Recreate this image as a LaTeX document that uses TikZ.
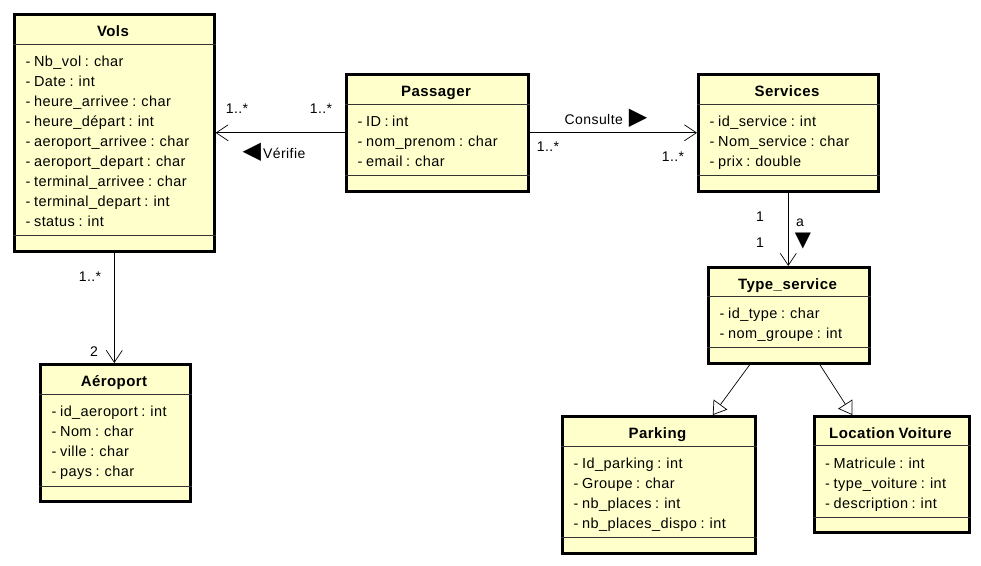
\documentclass[tikz,border=0pt]{standalone}
\usepackage{xcolor}
\usepackage{fontspec}
\usepackage{tikz}
\usetikzlibrary{arrows.meta}
\setmainfont{Liberation Sans}[LetterSpace=3, WordSpace=0.8]
\newfontfamily\symfont{DejaVu Sans}
\definecolor{classfill}{RGB}{255,255,204}

\begin{document}
\begin{tikzpicture}[x=1pt, y=-1pt,
    classbox/.style={draw, line width=2.6pt, fill=classfill, inner sep=0pt, anchor=north west},
    classname/.style={anchor=base, inner sep=0pt, font=\fontsize{15}{16}\selectfont\bfseries},
    attrs/.style={anchor=north west, align=left, inner sep=0pt, font=\fontsize{14.5}{20}\selectfont},
    sep/.style={line width=0.8pt, black!80},
    assoc/.style={-{Straight Barb[length=12pt, width=16pt]}, line width=0.7pt},
    gen/.style={-{Triangle[open, length=13pt, width=17pt, fill=white]}, line width=0.7pt},
    mult/.style={inner sep=0pt, font=\fontsize{14}{16}\selectfont}]
                  \useasboundingbox (0,0) rectangle (981,565);

                  % Vols
                  \node [classbox, minimum width=200, minimum height=237] (vols) at (13,13) {};
                  \node [classname] (vols-t) at (113,36) {Vols};
                  \draw [sep] (vols.west |- 0,44) -- (vols.east |- 0,44);
                  \node [attrs] (vols-a) at (25.5,52.5) {\strut- Nb\_vol : char\\- Date : int\\- heure\_arrivee : char\\- heure\_départ : int\\- aeroport\_arrivee : char\\- aeroport\_depart : char\\- terminal\_arrivee : char\\- terminal\_depart : int\\- status : int};
                  \draw [sep] (vols.west |- 0,235.5) -- (vols.east |- 0,235.5);

                  % Passager
                  \node [classbox, minimum width=182, minimum height=117] (passager) at (345,73) {};
                  \node [classname] (passager-t) at (436,96) {Passager};
                  \draw [sep] (passager.west |- 0,104) -- (passager.east |- 0,104);
                  \node [attrs] (passager-a) at (357.5,112.5) {\strut- ID : int\\- nom\_prenom : char\\- email : char};
                  \draw [sep] (passager.west |- 0,175) -- (passager.east |- 0,175);

                  % Services
                  \node [classbox, minimum width=180, minimum height=117] (services) at (697,73) {};
                  \node [classname] (services-t) at (787,96) {Services};
                  \draw [sep] (services.west |- 0,104) -- (services.east |- 0,104);
                  \node [attrs] (services-a) at (709.5,112.5) {\strut- id\_service : int\\- Nom\_service : char\\- prix : double};
                  \draw [sep] (services.west |- 0,175) -- (services.east |- 0,175);

                  % Type_service
                  \node [classbox, minimum width=161, minimum height=96] (tserv) at (707,266) {};
                  \node [classname] (tserv-t) at (787.5,289) {Type\_service};
                  \draw [sep] (tserv.west |- 0,296) -- (tserv.east |- 0,296);
                  \node [attrs] (tserv-a) at (719.5,304.5) {\strut- id\_type : char\\- nom\_groupe : int};
                  \draw [sep] (tserv.west |- 0,347) -- (tserv.east |- 0,347);

                  % Aeroport
                  \node [classbox, minimum width=150, minimum height=137] (aero) at (39,363) {};
                  \node [classname] (aero-t) at (114,386) {Aéroport};
                  \draw [sep] (aero.west |- 0,394) -- (aero.east |- 0,394);
                  \node [attrs] (aero-a) at (51.5,402.5) {\strut- id\_aeroport : int\\- Nom : char\\- ville : char\\- pays : char};
                  \draw [sep] (aero.west |- 0,486.5) -- (aero.east |- 0,486.5);

                  % Parking
                  \node [classbox, minimum width=193, minimum height=137] (parking) at (561,415) {};
                  \node [classname] (parking-t) at (657.5,438) {Parking};
                  \draw [sep] (parking.west |- 0,446) -- (parking.east |- 0,446);
                  \node [attrs] (parking-a) at (573.5,454.3) {\strut- Id\_parking : int\\- Groupe : char\\- nb\_places : int\\- nb\_places\_dispo : int};
                  \draw [sep] (parking.west |- 0,537) -- (parking.east |- 0,537);

                  % Location Voiture
                  \node [classbox, minimum width=155, minimum height=116] (locv) at (813,415) {};
                  \node [classname] (locv-t) at (890.5,438) {Location Voiture};
                  \draw [sep] (locv.west |- 0,445.5) -- (locv.east |- 0,445.5);
                  \node [attrs] (locv-a) at (825,454.3) {\strut- Matricule : int\\- type\_voiture : int\\- description : int};
                  \draw [sep] (locv.west |- 0,517) -- (locv.east |- 0,517);

                  % Associations
                  \draw [assoc] (passager) -- (vols);
                  \draw [assoc] (passager) -- (services);
                  \draw [assoc] (services.south) -- (services.south |- tserv.north);
                  \draw [assoc] (vols.south) -- (vols.south |- aero.north);

                  % Generalisations
                  \draw [gen] ([xshift=-39]tserv.south) -- ([xshift=54]parking.north);
                  \draw [gen] ([xshift=31]tserv.south) -- ([xshift=-39.5]locv.north);

                  % Labels
                  \node [mult] (m-vols) at (237,109) {1..*};
                  \node [mult] (m-pass) at (321,109) {1..*};
                  \node [mult] (verifie) at (274,152) {{\fontsize{24}{16}\symfont ◀}\hspace{2pt}Vérifie};
                  \node [mult] (consulte) at (606,118) {Consulte\hspace{6pt}{\fontsize{24}{16}\symfont ▶}};
                  \node [mult] (m-pass2) at (548,147) {1..*};
                  \node [mult] (m-serv) at (673,157) {1..*};
                  \node [mult] (m-serv2) at (760,217) {1};
                  \node [mult] (m-tserv) at (760,243) {1};
                  \node [mult] (a-lab) at (800,223) {a};
                  \node [mult, font=\fontsize{21}{16}\symfont] (a-tri) at (803,241.5) {▼};
                  \node [mult] (m-vols2) at (90,277) {1..*};
                  \node [mult] (m-aero) at (94,352) {2};
              \end{tikzpicture}
\end{document}
